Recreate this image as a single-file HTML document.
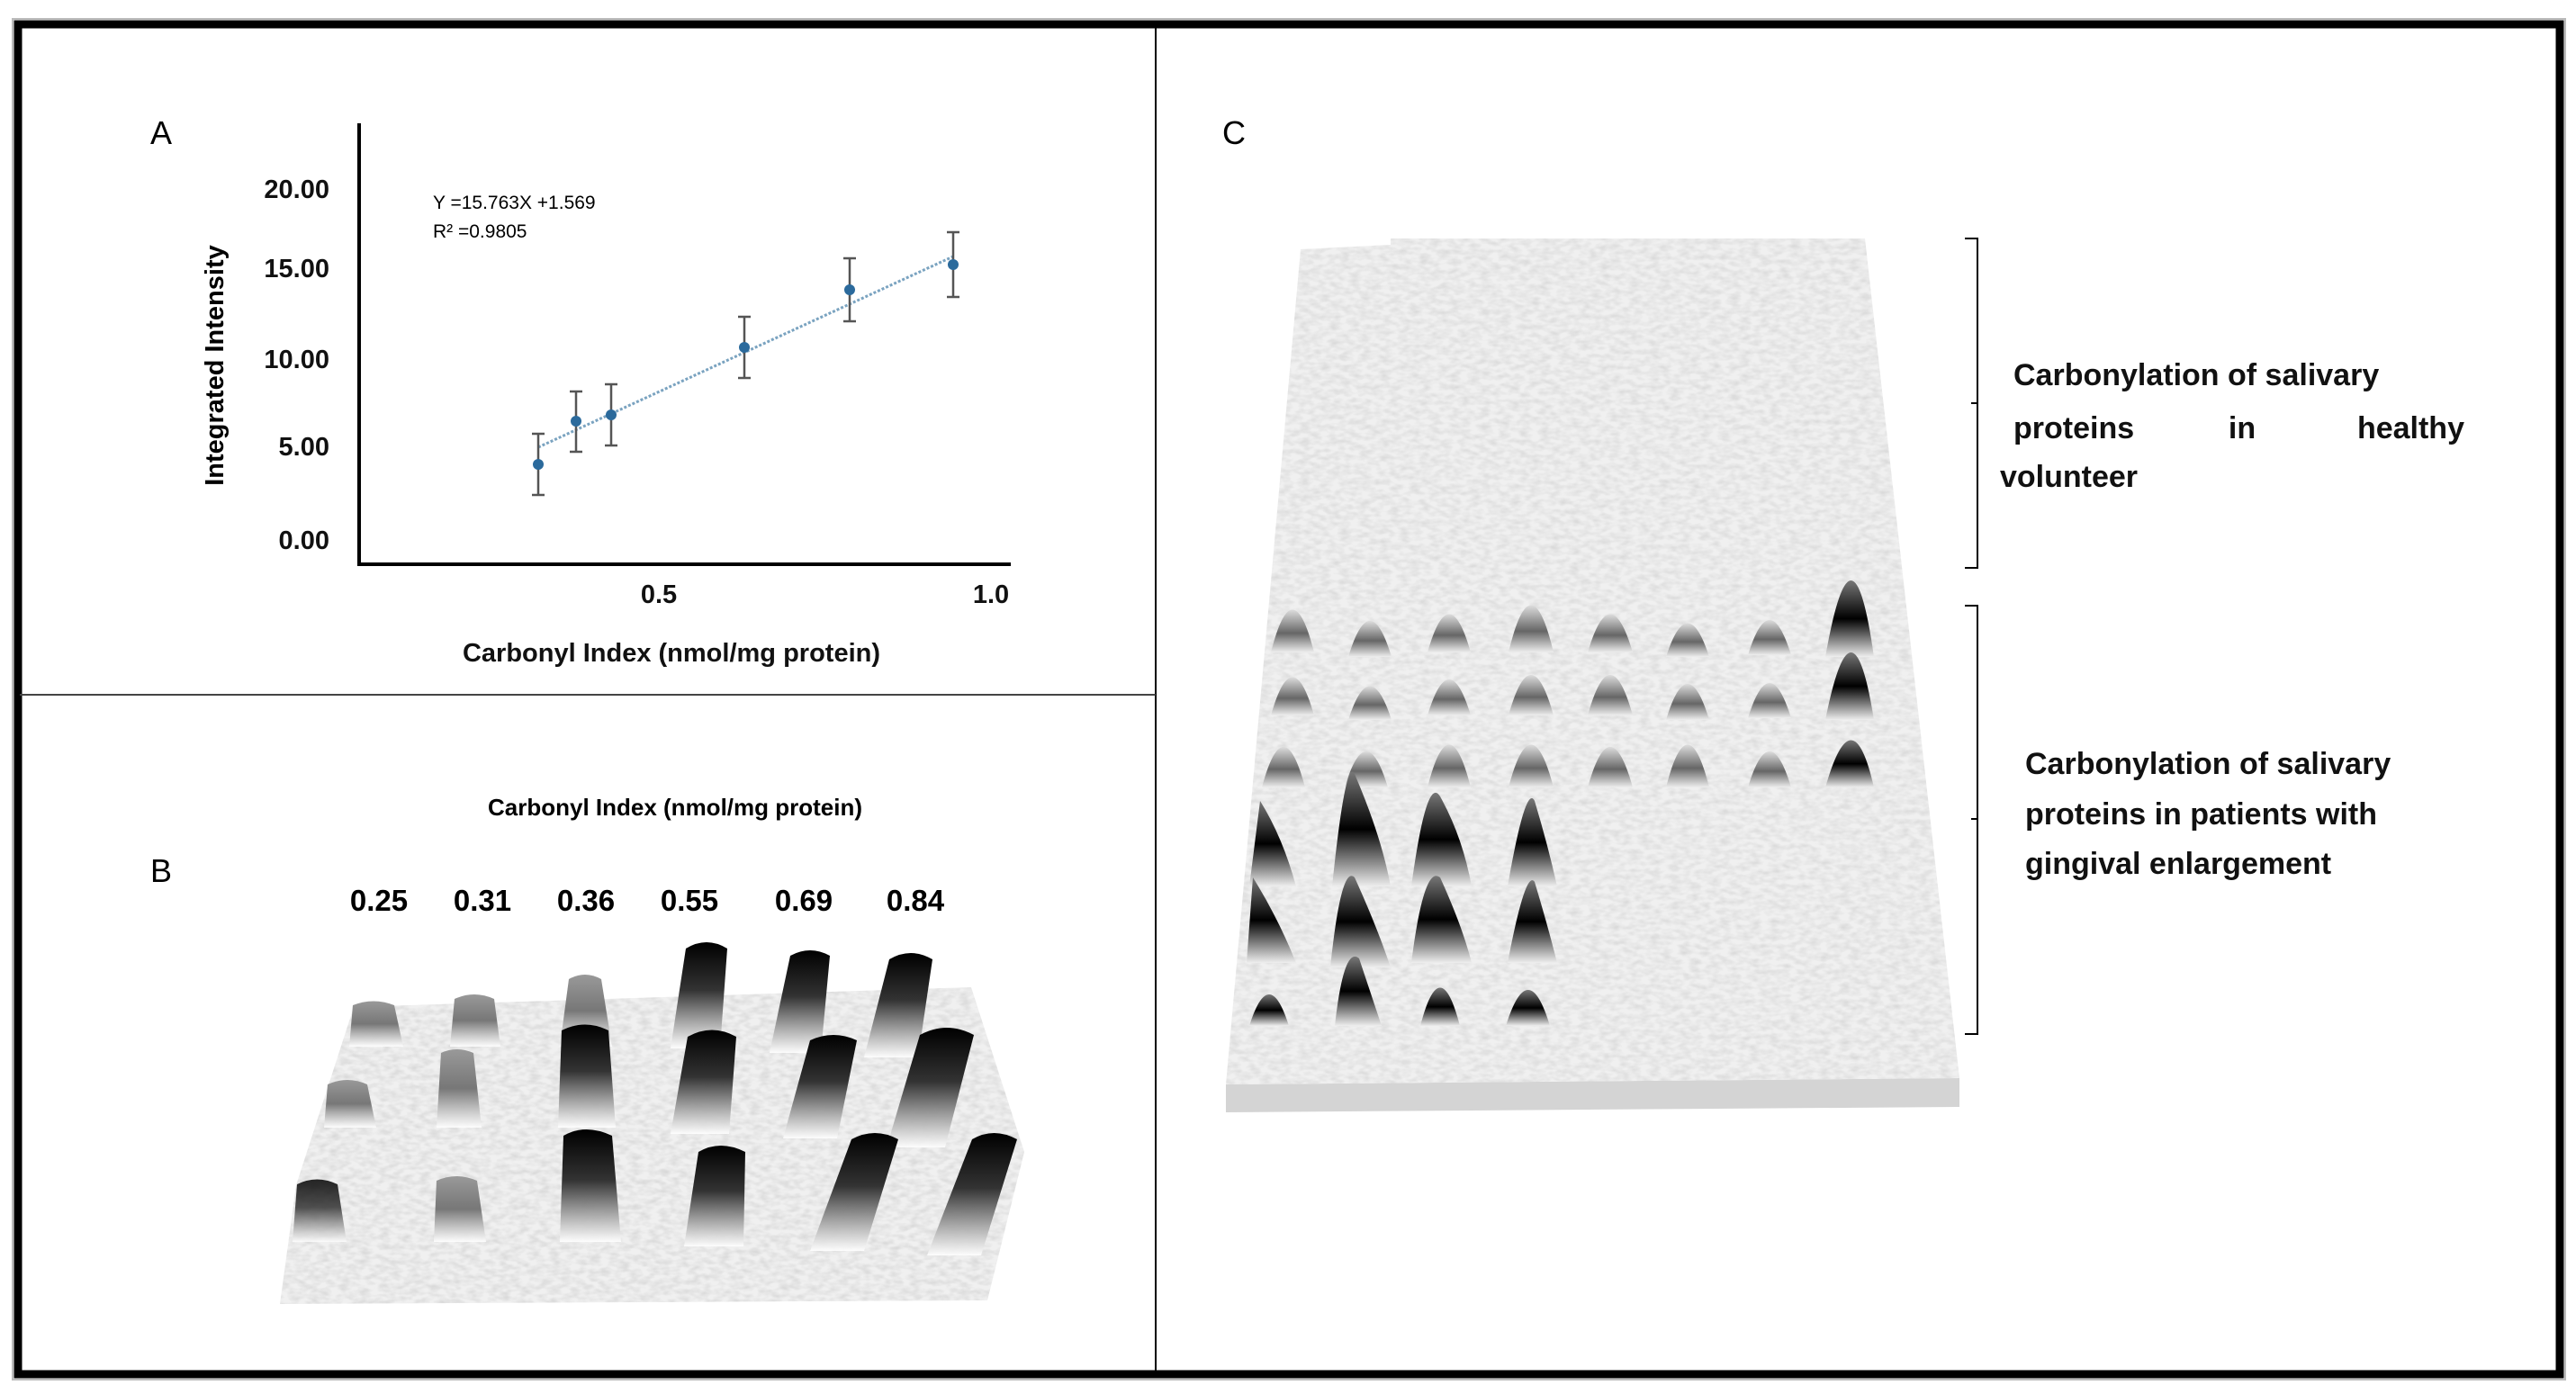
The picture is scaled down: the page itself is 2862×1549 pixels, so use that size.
<!DOCTYPE html>
<html><head><meta charset="utf-8"><style>
html,body{margin:0;padding:0;background:#fff;}
svg{display:block;}
text{font-family:"Liberation Sans",Arial,sans-serif;}
</style></head><body>
<svg width="2862" height="1549" viewBox="0 0 2862 1549" xmlns="http://www.w3.org/2000/svg">
<defs>
<filter id="tex" x="0" y="0" width="100%" height="100%">
<feTurbulence type="fractalNoise" baseFrequency="0.09 0.18" numOctaves="2" seed="3"/>
<feColorMatrix type="matrix" values="0 0 0 0 0.55  0 0 0 0 0.55  0 0 0 0 0.55  0 0 0 -1.6 1.05"/>
</filter>
<linearGradient id="col" x1="0" y1="0" x2="0" y2="1">
<stop offset="0" stop-color="#000"/><stop offset="0.45" stop-color="#333"/><stop offset="1" stop-color="#fff" stop-opacity="0.9"/>
</linearGradient>
<linearGradient id="colL" x1="0" y1="0" x2="0" y2="1">
<stop offset="0" stop-color="#999"/><stop offset="0.5" stop-color="#777"/><stop offset="1" stop-color="#fff" stop-opacity="0.9"/>
</linearGradient>
<linearGradient id="cone" x1="0" y1="0" x2="0" y2="1">
<stop offset="0" stop-color="#ddd"/><stop offset="0.55" stop-color="#666"/><stop offset="1" stop-color="#eee"/>
</linearGradient>
<linearGradient id="coneD" x1="0" y1="0" x2="0" y2="1">
<stop offset="0" stop-color="#777"/><stop offset="0.5" stop-color="#000"/><stop offset="1" stop-color="#eee"/>
</linearGradient>
<clipPath id="cB"><polygon points="393,1119 1079,1097 1138,1280 1097,1445 311,1449 329,1317"/></clipPath>
<clipPath id="cC"><polygon points="1445,277 1545,272 1545,265 2072,265 2177,1198 1362,1205"/></clipPath>
</defs>

<rect x="20" y="27" width="2824" height="1500" fill="none" stroke="#000" stroke-width="9"/>
<rect x="14" y="21" width="2836" height="1512" fill="none" stroke="#bbb" stroke-width="2"/>
<line x1="1284" y1="27" x2="1284" y2="1527" stroke="#000" stroke-width="2"/>
<line x1="22" y1="772" x2="1284" y2="772" stroke="#444" stroke-width="2"/>

<!-- Panel A -->
<text x="167" y="160" font-size="36">A</text>
<line x1="399" y1="137" x2="399" y2="628" stroke="#000" stroke-width="4"/>
<line x1="397" y1="627" x2="1123" y2="627" stroke="#000" stroke-width="4"/>
<g font-size="29" font-weight="bold" text-anchor="end" fill="#111">
<text x="366" y="220">20.00</text><text x="366" y="308">15.00</text><text x="366" y="409">10.00</text><text x="366" y="506">5.00</text><text x="366" y="610">0.00</text>
</g>
<g font-size="29" font-weight="bold" text-anchor="middle" fill="#111">
<text x="732" y="670">0.5</text><text x="1101" y="670">1.0</text>
<text x="746" y="735">Carbonyl Index (nmol/mg protein)</text>
</g>
<text transform="translate(248,406) rotate(-90)" font-size="29" font-weight="bold" text-anchor="middle">Integrated  Intensity</text>
<text x="481" y="232" font-size="21">Y =15.763X +1.569</text>
<text x="481" y="264" font-size="21">R² =0.9805</text>
<line x1="598" y1="497" x2="1059" y2="285" stroke="#7aa3c0" stroke-width="3" stroke-dasharray="3,2"/>
<g stroke="#555" stroke-width="2.5">
<line x1="598" y1="482" x2="598" y2="550"/><line x1="591" y1="482" x2="605" y2="482"/><line x1="591" y1="550" x2="605" y2="550"/>
<line x1="640" y1="435" x2="640" y2="502"/><line x1="633" y1="435" x2="647" y2="435"/><line x1="633" y1="502" x2="647" y2="502"/>
<line x1="679" y1="427" x2="679" y2="495"/><line x1="672" y1="427" x2="686" y2="427"/><line x1="672" y1="495" x2="686" y2="495"/>
<line x1="827" y1="352" x2="827" y2="420"/><line x1="820" y1="352" x2="834" y2="352"/><line x1="820" y1="420" x2="834" y2="420"/>
<line x1="944" y1="287" x2="944" y2="357"/><line x1="937" y1="287" x2="951" y2="287"/><line x1="937" y1="357" x2="951" y2="357"/>
<line x1="1059" y1="258" x2="1059" y2="330"/><line x1="1052" y1="258" x2="1066" y2="258"/><line x1="1052" y1="330" x2="1066" y2="330"/>
</g>
<g fill="#2b6a9c">
<circle cx="598" cy="516" r="6"/><circle cx="640" cy="468" r="6"/><circle cx="679" cy="461" r="6"/><circle cx="827" cy="386" r="6"/><circle cx="944" cy="322" r="6"/><circle cx="1059" cy="294" r="6"/>
</g>

<!-- Panel B -->
<text x="167" y="980" font-size="36">B</text>
<text x="750" y="906" font-size="26" font-weight="bold" text-anchor="middle">Carbonyl Index (nmol/mg protein)</text>
<g font-size="33" font-weight="bold" text-anchor="middle">
<text x="421" y="1012">0.25</text><text x="536" y="1012">0.31</text><text x="651" y="1012">0.36</text><text x="766" y="1012">0.55</text><text x="893" y="1012">0.69</text><text x="1017" y="1012">0.84</text>
</g>
<polygon points="393,1119 1079,1097 1138,1280 1097,1445 311,1449 329,1317" fill="#f0f0f0"/>
<g clip-path="url(#cB)"><rect x="300" y="1090" width="850" height="370" filter="url(#tex)" opacity="0.6"/></g>
<g>
<path d="M388,1163 L392,1117 Q415,1108 438,1117 L448,1163 Z" fill="url(#colL)"/>
<path d="M500,1163 L505,1110 Q527,1100 549,1110 L556,1163 Z" fill="url(#colL)"/>
<path d="M622,1163 L632,1088 Q650,1078 668,1088 L680,1163 Z" fill="url(#colL)"/>
<path d="M745,1165 L762,1054 Q785,1040 808,1054 L800,1165 Z" fill="url(#col)"/>
<path d="M855,1170 L878,1062 Q900,1050 922,1062 L912,1170 Z" fill="url(#col)"/>
<path d="M960,1175 L988,1066 Q1012,1052 1036,1066 L1020,1175 Z" fill="url(#col)"/>
<path d="M360,1253 L364,1205 Q386,1195 408,1205 L418,1253 Z" fill="url(#colL)"/>
<path d="M485,1253 L490,1170 Q507,1162 526,1170 L535,1253 Z" fill="url(#colL)"/>
<path d="M620,1253 L624,1145 Q650,1132 676,1145 L684,1253 Z" fill="url(#col)"/>
<path d="M745,1260 L764,1152 Q791,1137 818,1152 L810,1260 Z" fill="url(#col)"/>
<path d="M870,1265 L900,1156 Q926,1144 952,1156 L930,1265 Z" fill="url(#col)"/>
<path d="M985,1275 L1022,1150 Q1052,1134 1082,1150 L1050,1275 Z" fill="url(#col)"/>
<path d="M325,1380 L330,1316 Q352,1305 375,1316 L385,1380 Z" fill="url(#col)" opacity="0.85"/>
<path d="M482,1380 L485,1312 Q507,1302 530,1312 L540,1380 Z" fill="url(#colL)"/>
<path d="M622,1380 L626,1262 Q650,1248 680,1262 L690,1380 Z" fill="url(#col)"/>
<path d="M760,1385 L776,1280 Q800,1266 828,1280 L826,1385 Z" fill="url(#col)"/>
<path d="M900,1390 L946,1266 Q972,1252 998,1266 L960,1390 Z" fill="url(#col)"/>
<path d="M1030,1395 L1080,1266 Q1104,1252 1130,1266 L1090,1395 Z" fill="url(#col)"/>
</g>

<!-- Panel C -->
<text x="1358" y="160" font-size="36">C</text>
<polygon points="1362,1205 2177,1198 2177,1230 1362,1236" fill="#d4d4d4"/>
<polygon points="1445,277 1545,272 1545,265 2072,265 2177,1198 1362,1205" fill="#f0f0f0"/>
<g clip-path="url(#cC)"><rect x="1350" y="255" width="840" height="960" filter="url(#tex)" opacity="0.55"/></g>
<g fill="url(#cone)">
<path d="M1412,725 Q1436,630 1460,725 Z"/><path d="M1498,730 Q1522,650 1546,730 Z"/><path d="M1586,725 Q1610,640 1634,725 Z"/><path d="M1676,725 Q1701,620 1726,725 Z"/><path d="M1764,725 Q1789,640 1814,725 Z"/><path d="M1851,730 Q1875,655 1899,730 Z"/><path d="M1942,728 Q1966,650 1990,728 Z"/><path d="M2028,730 Q2058,560 2082,730 Z" fill="url(#coneD)"/>
<path d="M1412,795 Q1436,710 1460,795 Z"/><path d="M1498,800 Q1522,725 1546,800 Z"/><path d="M1586,795 Q1610,715 1634,795 Z"/><path d="M1676,795 Q1701,705 1726,795 Z"/><path d="M1764,795 Q1789,705 1814,795 Z"/><path d="M1851,800 Q1875,720 1899,800 Z"/><path d="M1942,798 Q1966,720 1990,798 Z"/><path d="M2028,800 Q2058,650 2082,800 Z" fill="url(#coneD)"/>
<path d="M1402,875 Q1426,785 1450,875 Z"/><path d="M1494,875 Q1518,795 1542,875 Z"/><path d="M1586,875 Q1610,780 1634,875 Z"/><path d="M1676,875 Q1701,780 1726,875 Z"/><path d="M1764,875 Q1789,785 1814,875 Z"/><path d="M1851,875 Q1875,780 1899,875 Z"/><path d="M1942,875 Q1966,795 1990,875 Z"/><path d="M2028,875 Q2058,770 2082,875 Z" fill="url(#coneD)"/>
</g>
<g fill="url(#coneD)">
<path d="M1388,985 L1400,890 Q1425,930 1440,985 Z"/><path d="M1480,985 Q1495,840 1505,860 Q1535,930 1545,985 Z"/><path d="M1568,985 Q1585,860 1600,885 Q1625,930 1635,985 Z"/><path d="M1675,985 Q1695,870 1705,890 Q1720,940 1730,985 Z"/>
<path d="M1385,1070 L1392,975 Q1420,1020 1440,1070 Z"/><path d="M1478,1075 Q1490,960 1505,975 Q1530,1030 1545,1075 Z"/><path d="M1568,1070 Q1582,960 1600,975 Q1625,1030 1635,1070 Z"/><path d="M1675,1070 Q1695,965 1705,980 Q1720,1030 1730,1070 Z"/>
<path d="M1388,1140 Q1410,1070 1432,1140 Z"/><path d="M1483,1140 Q1493,1050 1510,1065 Q1525,1110 1535,1140 Z"/><path d="M1578,1140 Q1600,1055 1622,1140 Z"/><path d="M1673,1140 Q1698,1060 1722,1140 Z"/>
</g>
<g fill="none" stroke="#000" stroke-width="2">
<path d="M2183,265 L2197,265 L2197,631 L2183,631 M2197,448 L2190,448"/>
<path d="M2183,673 L2197,673 L2197,1149 L2183,1149 M2197,910 L2190,910"/>
</g>
<g font-size="34" font-weight="bold" fill="#111">
<text x="2237" y="428">Carbonylation  of salivary</text>
<text x="2237" y="487">proteins</text><text x="2491" y="487" text-anchor="middle">in</text><text x="2738" y="487" text-anchor="end">healthy</text>
<text x="2222" y="541">volunteer</text>
<text x="2250" y="860">Carbonylation  of salivary</text>
<text x="2250" y="916">proteins in patients  with</text>
<text x="2250" y="971">gingival enlargement</text>
</g>
</svg>
</body></html>
